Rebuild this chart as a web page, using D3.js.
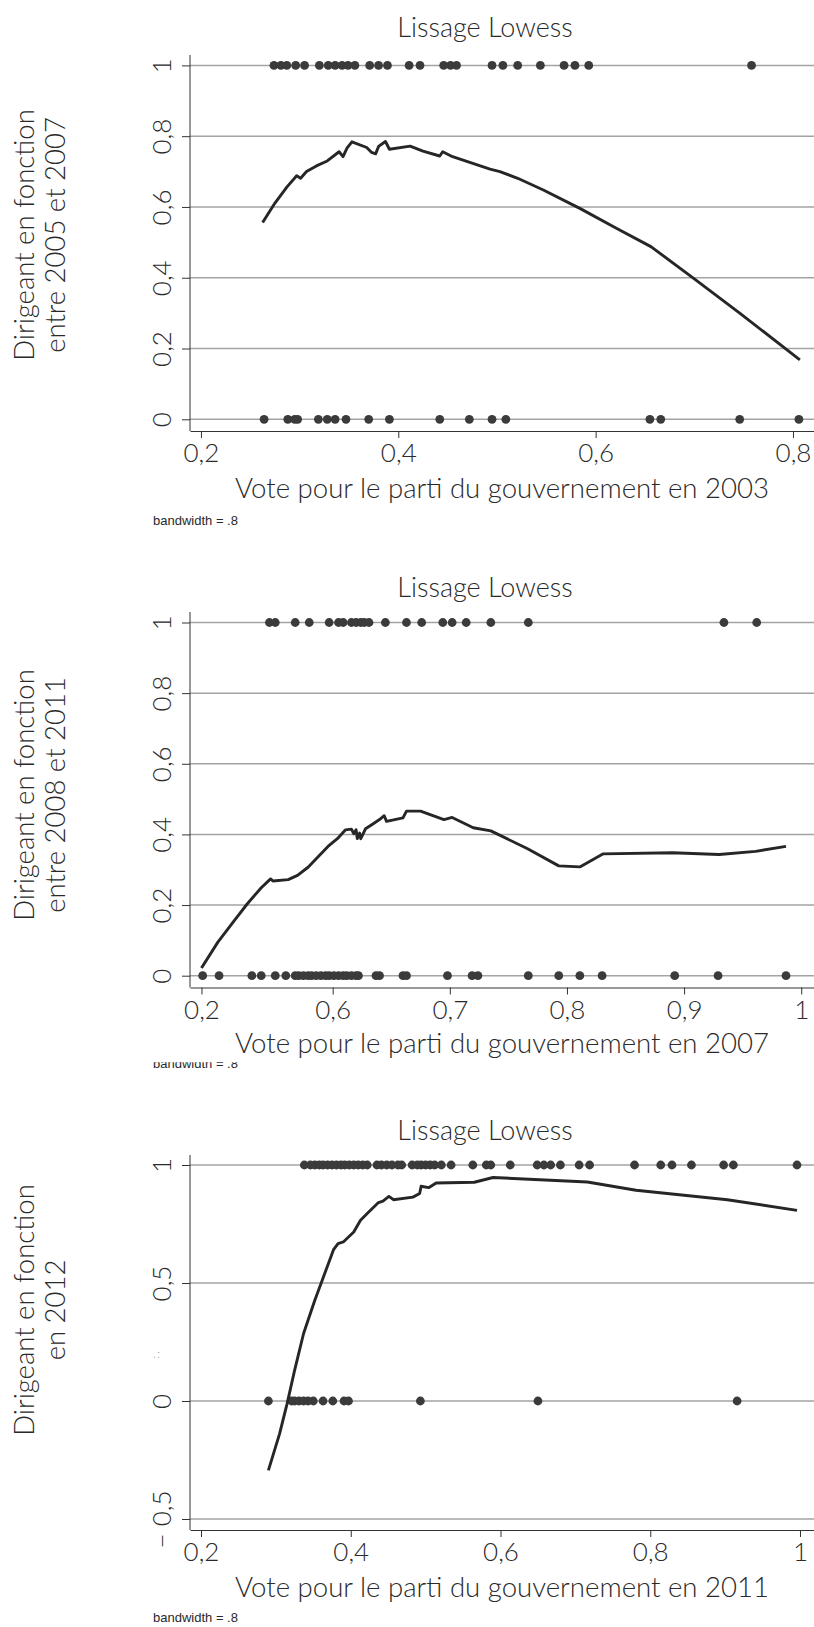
<!DOCTYPE html>
<html>
<head>
<meta charset="utf-8">
<script src="https://cdn.jsdelivr.net/npm/d3@7"></script>
<style>
body { margin: 0; background: #fff; }
svg text { font-family: Lato, "Open Sans", sans-serif; font-weight: 300; fill: #2a2a2a; }
svg text.bw { font-family: "Liberation Sans", Arial, sans-serif; font-weight: 400; font-size: 13px; }
</style>
</head>
<body>
<script>
const width = 814, height = 1627;

const titles = ["Lissage Lowess", "Lissage Lowess", "Lissage Lowess"];
const xTitles = [
  "Vote pour le parti du gouvernement en 2003",
  "Vote pour le parti du gouvernement en 2007",
  "Vote pour le parti du gouvernement en 2011"
];
const yTitles = [
  ["Dirigeant en fonction", "entre 2005 et 2007"],
  ["Dirigeant en fonction", "entre 2008 et 2011"],
  ["Dirigeant en fonction", "en 2012"]
];
const noteText = "bandwidth = .8";

// panel 1 : 2003 -> 2005/2007
const p1Top = [0.274, 0.281, 0.287, 0.296, 0.305, 0.320, 0.329, 0.336, 0.343, 0.349, 0.356,
  0.371, 0.380, 0.389, 0.411, 0.422, 0.446, 0.453, 0.459, 0.495, 0.506, 0.521, 0.544,
  0.568, 0.579, 0.593, 0.758];
const p1Bottom = [0.264, 0.288, 0.295, 0.298, 0.319, 0.328, 0.336, 0.347, 0.370, 0.391,
  0.442, 0.472, 0.495, 0.509, 0.655, 0.666, 0.746, 0.806];
const p1Curve = [[0.2625, 0.556], [0.275, 0.611], [0.287, 0.656], [0.297, 0.688], [0.301, 0.681],
  [0.307, 0.700], [0.317, 0.716], [0.328, 0.730], [0.340, 0.756], [0.344, 0.742], [0.348, 0.766],
  [0.353, 0.784], [0.368, 0.768], [0.373, 0.754], [0.377, 0.750], [0.380, 0.771], [0.387, 0.785],
  [0.391, 0.763], [0.412, 0.772], [0.425, 0.758], [0.442, 0.744], [0.445, 0.756], [0.455, 0.742],
  [0.493, 0.707], [0.503, 0.700], [0.521, 0.681], [0.547, 0.648], [0.584, 0.596], [0.621, 0.540],
  [0.656, 0.488], [0.699, 0.399], [0.746, 0.300], [0.807, 0.168]];
const p1XTicks = [0.2, 0.4, 0.6, 0.8];
const p1XLabels = ["0,2", "0,4", "0,6", "0,8"];
const p1YTicks = [0, 0.2, 0.4, 0.6, 0.8, 1];
const p1YLabels = ["0", "0,2", "0,4", "0,6", "0,8", "1"];

// panel 2 : 2007 -> 2008/2011
const p2Top = [0.546, 0.551, 0.568, 0.580, 0.597, 0.605, 0.609, 0.616, 0.620, 0.624, 0.627,
  0.631, 0.645, 0.663, 0.676, 0.694, 0.702, 0.714, 0.735, 0.767, 0.934, 0.962];
const p2Bottom = [0.489, 0.503, 0.531, 0.539, 0.551, 0.560, 0.568, 0.571, 0.575, 0.579, 0.582,
  0.586, 0.590, 0.594, 0.597, 0.601, 0.605, 0.609, 0.612, 0.616, 0.620, 0.622, 0.637, 0.640,
  0.660, 0.663, 0.698, 0.719, 0.724, 0.767, 0.793, 0.811, 0.830, 0.892, 0.929, 0.987];
const p2Curve = [[0.488, 0.022], [0.502, 0.095], [0.516, 0.156], [0.527, 0.203], [0.539, 0.249],
  [0.547, 0.274], [0.549, 0.268], [0.562, 0.272], [0.570, 0.284], [0.579, 0.307], [0.596, 0.366],
  [0.604, 0.388], [0.611, 0.413], [0.616, 0.415], [0.618, 0.402], [0.620, 0.413], [0.621, 0.388],
  [0.623, 0.404], [0.624, 0.388], [0.628, 0.416], [0.634, 0.429], [0.640, 0.442], [0.644, 0.453],
  [0.646, 0.437], [0.660, 0.447], [0.663, 0.466], [0.675, 0.466], [0.695, 0.442], [0.702, 0.448],
  [0.720, 0.419], [0.735, 0.410], [0.766, 0.360], [0.793, 0.311], [0.811, 0.308], [0.831, 0.345],
  [0.890, 0.348], [0.930, 0.343], [0.961, 0.352], [0.987, 0.366]];
const p2XTicks = [0.488, 0.6, 0.7, 0.8, 0.9, 1];
const p2XLabels = ["0,2", "0,6", "0,7", "0,8", "0,9", "1"];
const p2YTicks = [0, 0.2, 0.4, 0.6, 0.8, 1];
const p2YLabels = ["0", "0,2", "0,4", "0,6", "0,8", "1"];

// panel 3 : 2011 -> 2012
const p3Top = [0.338, 0.346, 0.352, 0.358, 0.363, 0.369, 0.375, 0.381, 0.387, 0.392, 0.398,
  0.404, 0.410, 0.416, 0.422, 0.435, 0.441, 0.448, 0.455, 0.463, 0.468, 0.482, 0.489, 0.494,
  0.500, 0.506, 0.512, 0.521, 0.534, 0.563, 0.581, 0.587, 0.613, 0.649, 0.658, 0.667, 0.680,
  0.705, 0.719, 0.779, 0.814, 0.829, 0.855, 0.898, 0.911, 0.996];
const p3Bottom = [0.290, 0.321, 0.325, 0.331, 0.337, 0.343, 0.350, 0.363, 0.376, 0.391, 0.397,
  0.493, 0.650, 0.916];
const p3Curve = [[0.290, -0.294], [0.305, -0.138], [0.315, -0.011], [0.325, 0.130], [0.337, 0.286],
  [0.352, 0.427], [0.377, 0.641], [0.383, 0.667], [0.390, 0.674], [0.404, 0.716], [0.413, 0.766],
  [0.424, 0.801], [0.437, 0.841], [0.443, 0.847], [0.451, 0.867], [0.457, 0.853], [0.483, 0.864],
  [0.492, 0.879], [0.494, 0.910], [0.504, 0.904], [0.514, 0.924], [0.565, 0.927], [0.590, 0.947],
  [0.716, 0.928], [0.781, 0.893], [0.903, 0.853], [0.996, 0.808]];
const p3XTicks = [0.2, 0.4, 0.6, 0.8, 1];
const p3XLabels = ["0,2", "0,4", "0,6", "0,8", "1"];
const p3YTicks = [-0.5, 0, 0.5, 1];
const p3YLabels = ["\u2212 0,5", "0", "0,5", "1"];

// layout of each panel (pixels)
const panels = [
  {title: titles[0], xTitle: xTitles[0], yTitle: yTitles[0], top: p1Top, bottom: p1Bottom, curve: p1Curve,
   xTicks: p1XTicks, xLabels: p1XLabels, yTicks: p1YTicks, yLabels: p1YLabels,
   xDomain: [0.1889, 0.8213], yDomain: [0, 1], yRange: [419.3, 65.4],
   axisTop: 55, base: 431, titleY: 28, xTitleY: 488, yTitleY: 235, noteY: 525},
  {title: titles[1], xTitle: xTitles[1], yTitle: yTitles[1], top: p2Top, bottom: p2Bottom, curve: p2Curve,
   xTicks: p2XTicks, xLabels: p2XLabels, yTicks: p2YTicks, yLabels: p2YLabels,
   xDomain: [0.4782, 1.0109], yDomain: [0, 1], yRange: [975.7, 622.5],
   axisTop: 612, base: 987.5, titleY: 588, xTitleY: 1043, yTitleY: 795, noteY: 1068, noteClip: 1062.3},
  {title: titles[2], xTitle: xTitles[2], yTitle: yTitles[2], top: p3Top, bottom: p3Bottom, curve: p3Curve,
   xTicks: p3XTicks, xLabels: p3XLabels, yTicks: p3YTicks, yLabels: p3YLabels,
   xDomain: [0.1853, 1.0187], yDomain: [-0.5, 1], yRange: [1519, 1165],
   axisTop: 1155, base: 1530, titleY: 1131, xTitleY: 1587, yTitleY: 1310, noteY: 1622, mark: [159, 1355]}
];

const left = 190, right = width;

const svg = d3.select("body").append("svg")
    .attr("width", width)
    .attr("height", height)
    .attr("viewBox", [0, 0, width, height]);

panels.forEach((p, k) => {
  const x = d3.scaleLinear().domain(p.xDomain).range([left, right]);
  const y = d3.scaleLinear().domain(p.yDomain).range(p.yRange);
  const g = svg.append("g");

  // grid lines (also under the 0 and 1 rows)
  g.append("g")
    .selectAll("line")
    .data(p.yTicks)
    .join("line")
      .attr("x1", left)
      .attr("x2", right)
      .attr("y1", d => y(d))
      .attr("y2", d => y(d))
      .attr("stroke", "#a3a3a3")
      .attr("stroke-width", 1.5);

  // y axis
  g.append("g")
      .attr("transform", `translate(${left},0)`)
      .call(d3.axisLeft(y).tickValues(p.yTicks).tickSize(8).tickSizeOuter(0)
        .tickFormat((d, i) => p.yLabels[i]))
      .call(a => a.select(".domain").remove())
      .call(a => a.selectAll(".tick line").attr("stroke", "#333"))
      .call(a => a.selectAll(".tick text")
        .attr("transform", "rotate(-90)")
        .attr("x", 0)
        .attr("y", -28)
        .attr("dy", "0.35em")
        .attr("text-anchor", "middle")
        .attr("font-size", 26)
        .attr("font-family", null));

  g.append("line")
      .attr("x1", left).attr("x2", left)
      .attr("y1", p.axisTop).attr("y2", p.base)
      .attr("stroke", "#333");

  // x axis
  g.append("g")
      .attr("transform", `translate(0,${p.base})`)
      .call(d3.axisBottom(x).tickValues(p.xTicks).tickSize(7).tickSizeOuter(0)
        .tickFormat((d, i) => p.xLabels[i]))
      .call(a => a.select(".domain").attr("stroke", "#333"))
      .call(a => a.selectAll(".tick line").attr("stroke", "#333"))
      .call(a => a.selectAll(".tick text")
        .attr("y", 22)
        .attr("dy", "0.35em")
        .attr("font-size", 26)
        .attr("font-family", null));

  // points
  const pts = p.top.map(v => [v, 1]).concat(p.bottom.map(v => [v, 0]));
  g.append("g")
    .selectAll("circle")
    .data(pts)
    .join("circle")
      .attr("cx", d => x(d[0]))
      .attr("cy", d => y(d[1]))
      .attr("r", 4.4)
      .attr("fill", "#3b3b3b");

  // lowess line
  g.append("path")
      .datum(p.curve)
      .attr("fill", "none")
      .attr("stroke", "#262626")
      .attr("stroke-width", 2.9)
      .attr("stroke-linejoin", "round")
      .attr("d", d3.line().x(d => x(d[0])).y(d => y(d[1])));

  // titles
  g.append("text")
      .attr("x", 485)
      .attr("y", p.titleY)
      .attr("dy", "0.35em")
      .attr("text-anchor", "middle")
      .attr("font-size", 27)
      .text(p.title);

  g.append("text")
      .attr("x", 502)
      .attr("y", p.xTitleY)
      .attr("dy", "0.35em")
      .attr("text-anchor", "middle")
      .attr("font-size", 27.6)
      .text(p.xTitle);

  g.append("text")
      .attr("transform", `translate(24,${p.yTitleY}) rotate(-90)`)
      .attr("text-anchor", "middle")
      .attr("font-size", 27.5)
      .selectAll("tspan")
      .data(p.yTitle)
      .join("tspan")
        .attr("x", 0)
        .attr("dy", (d, i) => i === 0 ? "0.35em" : "1.13em")
        .text(d => d);

  const note = g.append("text")
      .attr("class", "bw")
      .attr("x", 153)
      .attr("y", p.noteY)
      .text(noteText);

  if (p.noteClip) {
    svg.append("clipPath").attr("id", "clip" + k)
      .append("rect")
        .attr("x", 0).attr("y", p.noteClip)
        .attr("width", 300).attr("height", 30);
    note.attr("clip-path", `url(#clip${k})`);
  }

  if (p.mark) {
    g.append("text")
        .attr("transform", `translate(${p.mark[0]},${p.mark[1]}) rotate(-90)`)
        .attr("text-anchor", "middle")
        .attr("font-size", 9)
        .attr("fill", "#777")
        .text(": .");
  }
});
</script>
</body>
</html>
